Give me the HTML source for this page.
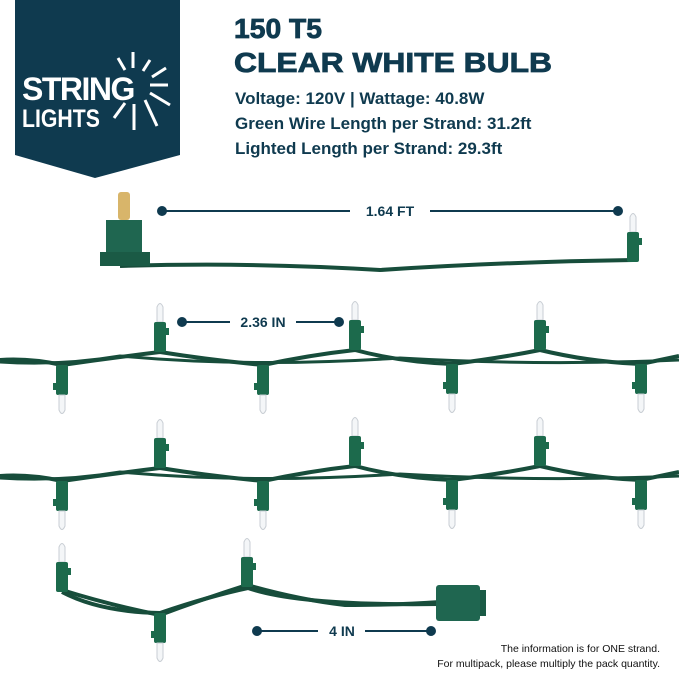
<!DOCTYPE html>
<html><head><style>
html,body{margin:0;padding:0;background:#fff;}
svg{display:block;font-family:"Liberation Sans",sans-serif;}
</style></head><body>
<svg width="679" height="675" viewBox="0 0 679 675" xmlns="http://www.w3.org/2000/svg">
<defs>
<g id="bu">
 <path d="M-3,-30 L-3,-45 Q0,-52 3,-45 L3,-30 Z" fill="#f4f6f8" stroke="#c9ced4" stroke-width="1"/>
 <rect x="-6" y="-30" width="12" height="30" rx="2" fill="#1c6a4c"/>
 <rect x="5" y="-24" width="4" height="7" fill="#1c6a4c"/>
</g>
<g id="bd">
 <rect x="-6" y="0" width="12" height="30" rx="2" fill="#1c6a4c"/>
 <rect x="-9" y="18" width="4" height="7" fill="#1c6a4c"/>
 <path d="M-3,30 L-3,45 Q0,52 3,45 L3,30 Z" fill="#f4f6f8" stroke="#c9ced4" stroke-width="1"/>
</g>
</defs>
<!-- banner -->
<path d="M15,0 H180 V155 L95,178 L15,155 Z" fill="#0f3a4f"/>
<text x="22" y="100" fill="#fff" font-size="32" font-weight="bold" letter-spacing="-1.5">STRING</text>
<text x="22" y="127" fill="#fff" font-size="25" font-weight="bold" transform="scale(0.85,1)" transform-origin="22 127">LIGHTS</text>
<g stroke="#fff" stroke-width="3" stroke-linecap="butt">
<line x1="133" y1="52" x2="133" y2="68"/><line x1="118" y1="58" x2="125" y2="70"/>
<line x1="150" y1="60" x2="143" y2="71"/><line x1="166" y1="68" x2="152" y2="77"/>
<line x1="150" y1="85" x2="168" y2="85"/><line x1="150" y1="93" x2="170" y2="105"/>
<line x1="145" y1="100" x2="157" y2="126"/><line x1="134" y1="104" x2="134" y2="130"/>
<line x1="125" y1="103" x2="114" y2="118"/>
</g>
<!-- title -->
<g fill="#0f3a4f">
<text x="234" y="38" font-size="28" font-weight="bold" textLength="88" lengthAdjust="spacingAndGlyphs" stroke="#0f3a4f" stroke-width="0.8">150 T5</text>
<text x="234" y="72" font-size="28" font-weight="bold" textLength="318" lengthAdjust="spacingAndGlyphs" stroke="#0f3a4f" stroke-width="0.8">CLEAR WHITE BULB</text>
<text x="235" y="104" font-size="17" font-weight="bold">Voltage: 120V | Wattage: 40.8W</text>
<text x="235" y="129" font-size="17" font-weight="bold">Green Wire Length per Strand: 31.2ft</text>
<text x="235" y="154" font-size="17" font-weight="bold">Lighted Length per Strand: 29.3ft</text>
</g>
<!-- dimension lines -->
<g stroke="#0f3a4f" stroke-width="2" fill="#0f3a4f">
<line x1="162" y1="211" x2="350" y2="211"/><line x1="430" y1="211" x2="618" y2="211"/>
<circle cx="162" cy="211" r="4"/><circle cx="618" cy="211" r="4"/>
<line x1="182" y1="322" x2="230" y2="322"/><line x1="296" y1="322" x2="339" y2="322"/>
<circle cx="182" cy="322" r="4"/><circle cx="339" cy="322" r="4"/>
<line x1="257" y1="631" x2="318" y2="631"/><line x1="365" y1="631" x2="431" y2="631"/>
<circle cx="257" cy="631" r="4"/><circle cx="431" cy="631" r="4"/>
</g>
<g fill="#0f3a4f" font-size="14" font-weight="bold" text-anchor="middle">
<text x="390" y="216">1.64 FT</text><text x="263" y="327">2.36 IN</text><text x="342" y="636">4 IN</text>
</g>
<!-- wires -->
<g fill="none" stroke="#174d3b" stroke-width="4">
<path d="M120,266 Q250,262 380,270 Q500,262 633,260"/>
<path d="M0,360 Q30,358 62,365 Q110,358 160,352 Q210,360 263,365 Q310,355 355,350 Q400,362 452,364 Q500,358 540,350 Q590,362 641,364 Q660,360 679,356"/>
<path d="M0,476 Q30,474 62,481 Q110,474 160,468 Q210,476 263,481 Q310,471 355,466 Q400,478 452,480 Q500,474 540,466 Q590,478 641,480 Q660,476 679,472"/>
<path d="M62,590 Q110,605 160,615 Q200,600 247,585 Q300,600 345,605 Q400,605 440,602"/>
<path d="M62,592 Q100,612 160,613 Q210,596 248,588 Q300,606 440,604"/>
</g>
<g stroke="#174d3b" stroke-width="3" fill="none">
<path d="M0,362 Q60,366 120,356 Q250,368 400,358 Q540,366 679,360"/>
<path d="M0,478 Q60,482 120,472 Q250,484 400,474 Q540,482 679,476"/>
</g>
<!-- plug -->
<rect x="118" y="192" width="12" height="28" rx="3" fill="#d8b56a"/>
<rect x="106" y="220" width="36" height="35" fill="#1f6650"/>
<rect x="100" y="252" width="50" height="14" fill="#1a5a45"/>
<!-- bulbs -->
<use href="#bu" x="633" y="262"/>
<use href="#bu" x="160" y="352"/><use href="#bu" x="355" y="350"/><use href="#bu" x="540" y="350"/>
<use href="#bd" x="62" y="365"/><use href="#bd" x="263" y="365"/><use href="#bd" x="452" y="364"/><use href="#bd" x="641" y="364"/>
<use href="#bu" x="160" y="468"/><use href="#bu" x="355" y="466"/><use href="#bu" x="540" y="466"/>
<use href="#bd" x="62" y="481"/><use href="#bd" x="263" y="481"/><use href="#bd" x="452" y="480"/><use href="#bd" x="641" y="480"/>
<use href="#bu" x="62" y="592"/><use href="#bu" x="247" y="587"/>
<use href="#bd" x="160" y="613"/>
<!-- end socket -->
<rect x="436" y="585" width="44" height="36" rx="3" fill="#1f6650"/>
<rect x="480" y="590" width="6" height="26" fill="#1a5a45"/>
<!-- note -->
<g fill="#111" font-size="10.5" text-anchor="end">
<text x="660" y="652">The information is for ONE strand.</text>
<text x="660" y="667">For multipack, please multiply the pack quantity.</text>
</g>
</svg>
</body></html>
